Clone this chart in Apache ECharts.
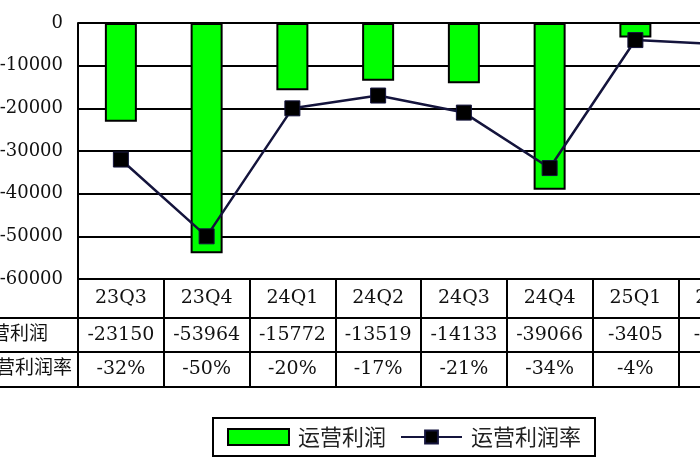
<!DOCTYPE html>
<html>
<head>
<meta charset="utf-8">
<script src="https://cdn.jsdelivr.net/npm/echarts@6/dist/echarts.min.js"></script>
<style>
html, body { margin: 0; padding: 0; background: #fff; }
#main { width: 700px; height: 470px; }
</style>
</head>
<body>
<div id="main"></div>
<script>
// 季度
var quarters = ['23Q3', '23Q4', '24Q1', '24Q2', '24Q3', '24Q4', '25Q1', '25Q2'];
// 运营利润
var opProfit = [-23150, -53964, -15772, -13519, -14133, -39066, -3405, -4500];
// 运营利润率 (%)
var opMargin = [-32, -50, -20, -17, -21, -34, -4, -5];
var rowNames = ['运营利润', '运营利润率'];

var numFont = 'DejaVu Serif';
var cjkFont = 'Noto Sans CJK SC';

var myChart = echarts.init(document.getElementById('main'));

function tableAxis(data, offset, tickLen, margin, showLabel) {
    return {
        type: 'category',
        gridIndex: 0,
        position: 'bottom',
        offset: offset,
        data: data,
        boundaryGap: true,
        axisLine: { show: true, onZero: false, lineStyle: { color: '#000', width: 2 } },
        axisTick: { show: tickLen > 0, inside: false, length: tickLen, lineStyle: { color: '#000', width: 2 } },
        axisLabel: {
            show: showLabel,
            interval: 0,
            margin: margin,
            color: '#111',
            fontFamily: numFont,
            fontSize: 19
        },
        splitLine: { show: false }
    };
}

var option = {
    backgroundColor: '#fff',
    animation: false,
    grid: { left: 78, right: -64, top: 23, bottom: 191, outerBoundsMode: 'none', containLabel: false },
    legend: {
        left: 213,
        top: 418,
        orient: 'horizontal',
        borderColor: '#000',
        borderWidth: 2,
        padding: [8, 14, 8, 14],
        itemWidth: 61,
        itemHeight: 16,
        itemGap: 14,
        textStyle: { fontFamily: cjkFont, fontSize: 22, color: '#222', padding: [0, 0, 0, 4] },
        data: [
            { name: '运营利润', icon: 'rect' },
            { name: '运营利润率' }
        ]
    },
    xAxis: [
        tableAxis(quarters, 0, 39, 10, true),
        tableAxis(opProfit.map(String), 39, 34, 8, true),
        tableAxis(opMargin.map(function (v) { return v + '%'; }), 73, 35, 8, true),
        tableAxis(quarters, 108, 0, 0, false)
    ],
    yAxis: [
        {
            type: 'value',
            min: -60000,
            max: 0,
            interval: 10000,
            axisLine: { show: true, onZero: false, lineStyle: { color: '#000', width: 2 } },
            axisTick: { show: false },
            axisLabel: {
                margin: 15, color: '#111', fontFamily: numFont, fontSize: 18,
                formatter: function (v) { return String(v); }
            },
            splitLine: { show: true, lineStyle: { color: '#000', width: 2 } }
        },
        {
            type: 'value',
            min: -60,
            max: 0,
            show: false,
            splitLine: { show: false }
        }
    ],
    graphic: [
        { type: 'line', shape: { x1: 0, y1: 318, x2: 78, y2: 318 }, style: { stroke: '#000', lineWidth: 2 } },
        { type: 'line', shape: { x1: 0, y1: 352, x2: 78, y2: 352 }, style: { stroke: '#000', lineWidth: 2 } },
        { type: 'line', shape: { x1: 0, y1: 387, x2: 78, y2: 387 }, style: { stroke: '#000', lineWidth: 2 } },
        { type: 'text', left: -28, top: 323, style: { text: rowNames[0], font: '19px "Noto Sans CJK SC"', fill: '#111' } },
        { type: 'text', left: -23, top: 357, style: { text: rowNames[1], font: '19px "Noto Sans CJK SC"', fill: '#111' } }
    ],
    series: [
        {
            name: '运营利润',
            type: 'bar',
            xAxisIndex: 0,
            yAxisIndex: 0,
            barWidth: 32,
            itemStyle: { color: '#00ff00', borderColor: '#000', borderWidth: 2 },
            data: opProfit
        },
        {
            name: '运营利润率',
            type: 'line',
            xAxisIndex: 0,
            yAxisIndex: 1,
            symbol: 'rect',
            symbolSize: 15,
            lineStyle: { color: '#14143c', width: 2.5 },
            itemStyle: { color: '#000', borderColor: '#14143c', borderWidth: 1 },
            data: opMargin
        }
    ]
};

myChart.setOption(option);
</script>
</body>
</html>
